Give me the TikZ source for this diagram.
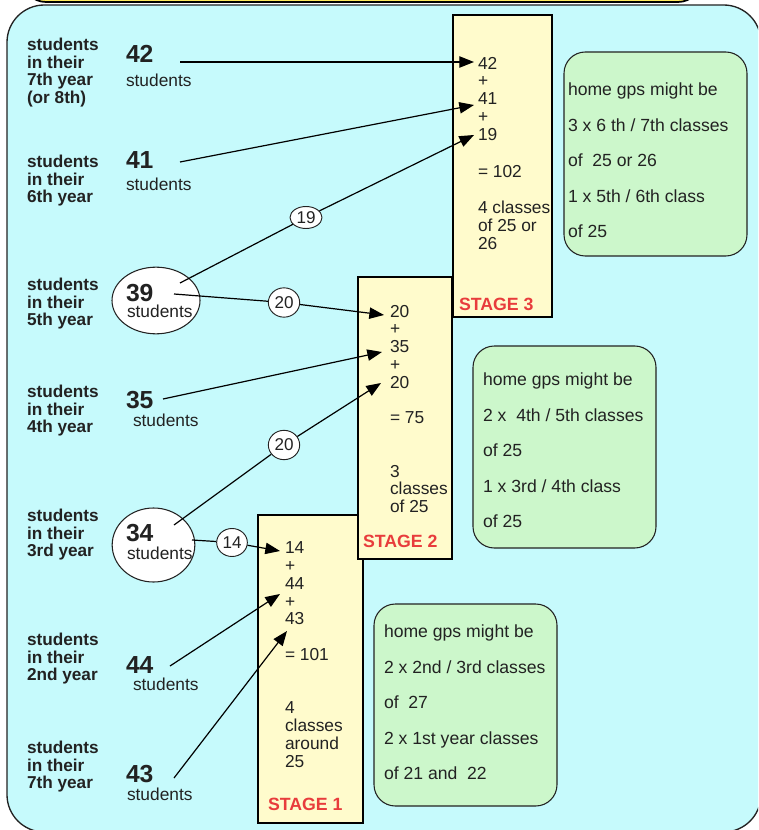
\documentclass[tikz,border=0pt]{standalone}
\usepackage{fontspec}
\setmainfont{Liberation Sans}
\usetikzlibrary{arrows.meta,shapes.geometric}
\definecolor{panelcyan}{HTML}{C6FAFC}
\definecolor{stageyellow}{HTML}{FFFBCC}
\definecolor{homegreen}{HTML}{CCF7CB}
\definecolor{stagered}{HTML}{E83C3C}
\definecolor{topyellow}{HTML}{FFE95C}
\definecolor{ink}{HTML}{222222}
\begin{document}
\begin{tikzpicture}[x=0.75pt,y=-0.75pt,
  lbl/.style={anchor=north west, inner sep=0pt, outer sep=0pt, align=left, text=ink, font=\fontsize{12.9}{13.2}\selectfont\bfseries},
  big/.style={anchor=north west, inner sep=0pt, outer sep=0pt, text=ink, font=\fontsize{18.5}{20}\selectfont\bfseries},
  sub/.style={anchor=north west, inner sep=0pt, outer sep=0pt, text=ink, font=\fontsize{13}{13.2}\selectfont},
  stagebox/.style={draw=black, fill=stageyellow, line width=0.9pt, anchor=north west, inner sep=0pt, outer sep=0pt},
  stack/.style={anchor=north west, inner sep=0pt, outer sep=0pt, align=left, text=ink, font=\fontsize{13}{13.3}\selectfont},
  stagelbl/.style={anchor=north west, inner sep=0pt, outer sep=0pt, text=stagered, font=\fontsize{13.3}{13.5}\selectfont\bfseries},
  homebox/.style={draw=ink, fill=homegreen, line width=0.8pt, rounded corners=16pt, anchor=north west, inner sep=0pt, outer sep=0pt, minimum width=137.25pt},
  hometext/.style={anchor=north west, inner sep=0pt, outer sep=0pt, align=left, text=ink, font=\fontsize{13.2}{26.6}\selectfont},
  pop/.style={ellipse, draw=ink, fill=white, line width=0.8pt, inner sep=0pt},
  cnt/.style={ellipse, draw=ink, fill=white, line width=0.7pt, inner sep=0pt, text=ink, font=\fontsize{12.8}{13}\selectfont},
  arr/.style={-{Triangle[length=11pt,width=8.5pt]}, line width=0.9pt, draw=black},
  seg/.style={line width=0.9pt, draw=black}
]
\useasboundingbox (0,0) rectangle (758,830);
\clip (0,0) rectangle (758,830);

% top yellow banner and cyan panel
\path[fill=topyellow, draw=black, line width=1.3pt, rounded corners=18pt] (22,-60) rectangle (702,2);
\path[fill=panelcyan, draw=ink, line width=1pt, rounded corners=28pt] (7,5) rectangle (761,832);

% stage boxes
\node[stagebox, minimum width=78.75pt, minimum height=231pt] (st1) at (258,515) {};
\node[stagebox, minimum width=70.5pt, minimum height=211.5pt] (st2) at (358,277) {};
\node[stagebox, minimum width=74.25pt, minimum height=226.5pt] (st3) at (453,15) {};

% home group boxes
\node[homebox, minimum height=153pt] (h3) at (564,52) {};
\node[homebox, minimum height=151.5pt] (h2) at (473,346) {};
\node[homebox, minimum height=151.5pt] (h1) at (374,604) {};

% population ellipses
\node[pop, minimum width=66pt, minimum height=50pt] (e39) at (156,300.5) {};
\node[pop, minimum width=62pt, minimum height=55.5pt] (e34) at (153.5,545) {};

% left labels
\node[lbl] (y7) at (27,38) {students\\in their\\7th year\\(or 8th)};
\node[lbl] (y6) at (27,155) {students\\in their\\6th year};
\node[lbl] (y5) at (27,278) {students\\in their\\5th year};
\node[lbl] (y4) at (27,385) {students\\in their\\4th year};
\node[lbl] (y3) at (27,509) {students\\in their\\3rd year};
\node[lbl] (y2) at (27,633) {students\\in their\\2nd year};
\node[lbl] (y1) at (27,741) {students\\in their\\7th year};

% numbers
\node[big] (n42) at (126,45) {42};
\node[sub] (s42) at (126,74) {students};
\node[big] (n41) at (126,152) {41};
\node[sub] (s41) at (126,178) {students};
\node[big] (n39) at (126,284) {39};
\node[sub] (s39) at (127,305) {students};
\node[big] (n35) at (126,391) {35};
\node[sub] (s35) at (133,414) {students};
\node[big] (n34) at (126,524) {34};
\node[sub] (s34) at (127,547) {students};
\node[big] (n44) at (126,657) {44};
\node[sub] (s44) at (133,678) {students};
\node[big] (n43) at (126,765) {43};
\node[sub] (s43) at (127,788) {students};

% stage 3 text
\node[stack] (k3) at (478,57) {42\\+\\41\\+\\19};
\node[stack] (q3) at (478,165) {= 102};
\node[stack] (c3) at (478,201) {4 classes\\of 25 or\\26};
\node[stagelbl] (l3) at (459,298) {STAGE 3};
% stage 2 text
\node[stack] (k2) at (390,305) {20\\+\\35\\+\\20};
\node[stack] (q2) at (390,412) {= 75};
\node[stack] (c2) at (390,465) {3\\classes\\of 25};
\node[stagelbl] (l2) at (363,535) {STAGE 2};
% stage 1 text
\node[stack] (k1) at (285,542) {14\\+\\44\\+\\43};
\node[stack] (q1) at (285,648) {= 101};
\node[stack] (c1) at (285,702) {4\\classes\\around\\25};
\node[stagelbl] (l1) at (268,798) {STAGE 1};

% home group texts
\node[hometext] (t3) at (568,83) {home gps might be\\3 x 6 th / 7th classes\\of\ \ 25 or 26\\1 x 5th / 6th class\\of 25};
\node[hometext] (t2) at (483,373) {home gps might be\\2 x\ \ 4th / 5th classes\\of 25\\1 x 3rd / 4th class\\of 25};
\node[hometext] (t1) at (384,625) {home gps might be\\2 x 2nd / 3rd classes\\of\ \ 27\\2 x 1st year classes\\of 21 and\ \ 22};

% connector end points
\coordinate (a42) at (180,62);   \coordinate (b42) at (474,62);
\coordinate (a41) at (180,162);  \coordinate (b41) at (474,105);
\coordinate (a39u) at (180,283); \coordinate (b19) at (474,135);
\coordinate (a39r) at (174,294); \coordinate (b20u) at (384,315);
\coordinate (a35) at (163,399);  \coordinate (b35) at (382,352);
\coordinate (a34u) at (174,525); \coordinate (b20d) at (381,383);
\coordinate (a34r) at (192,540); \coordinate (b14) at (280,551);
\coordinate (a44) at (170,666);  \coordinate (b44) at (280,594);
\coordinate (a43) at (174,778);  \coordinate (b43) at (287,631);

% count labels on connectors
\node[cnt, minimum width=24pt, minimum height=16.5pt] (c19) at (306,217.5) {19};
\node[cnt, minimum width=23.5pt, minimum height=22pt] (c20u) at (284,302.5) {20};
\node[cnt, minimum width=23.5pt, minimum height=22pt] (c20d) at (284,445) {20};
\node[cnt, minimum width=23pt, minimum height=21pt] (c14) at (232,542.5) {14};

% connectors
\draw[arr] (a42) -- (b42);
\draw[arr] (a41) -- (b41);
\draw[seg] (a39u) -- (c19);
\draw[arr] (c19) -- (b19);
\draw[seg] (a39r) -- (c20u);
\draw[arr] (c20u) -- (b20u);
\draw[arr] (a35) -- (b35);
\draw[seg] (a34u) -- (c20d);
\draw[arr] (c20d) -- (b20d);
\draw[seg] (a34r) -- (c14);
\draw[arr] (c14) -- (b14);
\draw[arr] (a44) -- (b44);
\draw[arr] (a43) -- (b43);
\end{tikzpicture}
\end{document}
